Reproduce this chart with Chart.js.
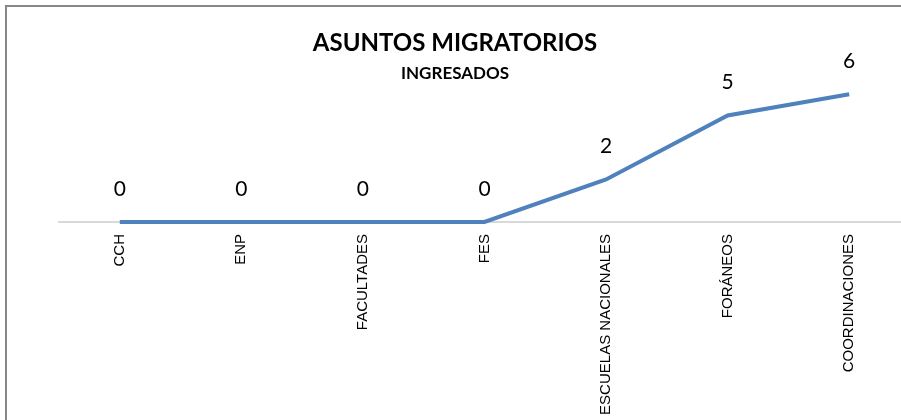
<!DOCTYPE html>
<html>
<head>
<meta charset="utf-8">
<script src="https://cdn.jsdelivr.net/npm/chart.js@4"></script>
<style>
  html, body { margin: 0; padding: 0; background: #fff; overflow: hidden; width: 901px; height: 420px; }
  #frame { position: absolute; left: 5px; top: 5px; width: 1000px; height: 1000px;
           border-top: 2px solid #878787; border-left: 2px solid #878787; }
  #wrap { position: absolute; left: 0; top: 0; width: 916px; height: 420px; }
</style>
</head>
<body>
<div id="frame"></div>
<div id="wrap"><canvas id="chart"></canvas></div>
<script>
// datos del gráfico
const categorias = ['CCH', 'ENP', 'FACULTADES', 'FES', 'ESCUELAS NACIONALES', 'FORÁNEOS', 'COORDINACIONES'];
const ingresados = [0, 0, 0, 0, 2, 5, 6];
const titulo = 'ASUNTOS MIGRATORIOS';
const subtitulo = 'INGRESADOS';

// etiquetas de valor encima de cada punto
const etiquetasValor = {
  id: 'etiquetasValor',
  afterDatasetsDraw(chart) {
    const ctx = chart.ctx;
    const meta = chart.getDatasetMeta(0);
    ctx.save();
    ctx.font = '21px Lato';
    ctx.fillStyle = '#000';
    ctx.textAlign = 'center';
    ctx.textBaseline = 'middle';
    meta.data.forEach((pt, i) => {
      ctx.fillText(String(ingresados[i]), pt.x, pt.y - 33);
    });
    ctx.restore();
  }
};

new Chart(document.getElementById('chart').getContext('2d'), {
  type: 'line',
  data: {
    labels: categorias,
    datasets: [{
      data: ingresados,
      borderColor: '#4f81bd',
      borderWidth: 4,
      pointRadius: 0,
      tension: 0,
      clip: false
    }]
  },
  options: {
    responsive: true,
    maintainAspectRatio: false,
    animation: false,
    layout: { padding: { left: 0, right: 6, top: 0, bottom: 0 } },
    plugins: {
      legend: { display: false },
      tooltip: { enabled: false },
      title: {
        display: true,
        text: titulo,
        color: '#000',
        font: { family: 'Lato', size: 24, weight: 'bold', lineHeight: 1.2 },
        padding: { top: 29, bottom: 4 }
      },
      subtitle: {
        display: true,
        text: subtitulo,
        color: '#000',
        font: { family: 'Lato', size: 17, weight: 'bold', lineHeight: 1.2 },
        padding: { top: 2, bottom: 10 }
      }
    },
    scales: {
      x: {
        offset: true,
        grid: { display: false },
        border: { display: true, color: '#d9d9d9', width: 2 },
        ticks: {
          color: '#000',
          font: { family: 'Liberation Sans', size: 15 },
          minRotation: 90,
          maxRotation: 90,
          autoSkip: false,
          padding: 4
        },
        afterFit(scale) { scale.height = 198; }
      },
      y: {
        display: true,
        min: 0,
        max: 6,
        grid: { display: false },
        border: { display: false },
        ticks: { display: false },
        afterFit(scale) { scale.width = 59; }
      }
    }
  },
  plugins: [etiquetasValor]
});
</script>
</body>
</html>
